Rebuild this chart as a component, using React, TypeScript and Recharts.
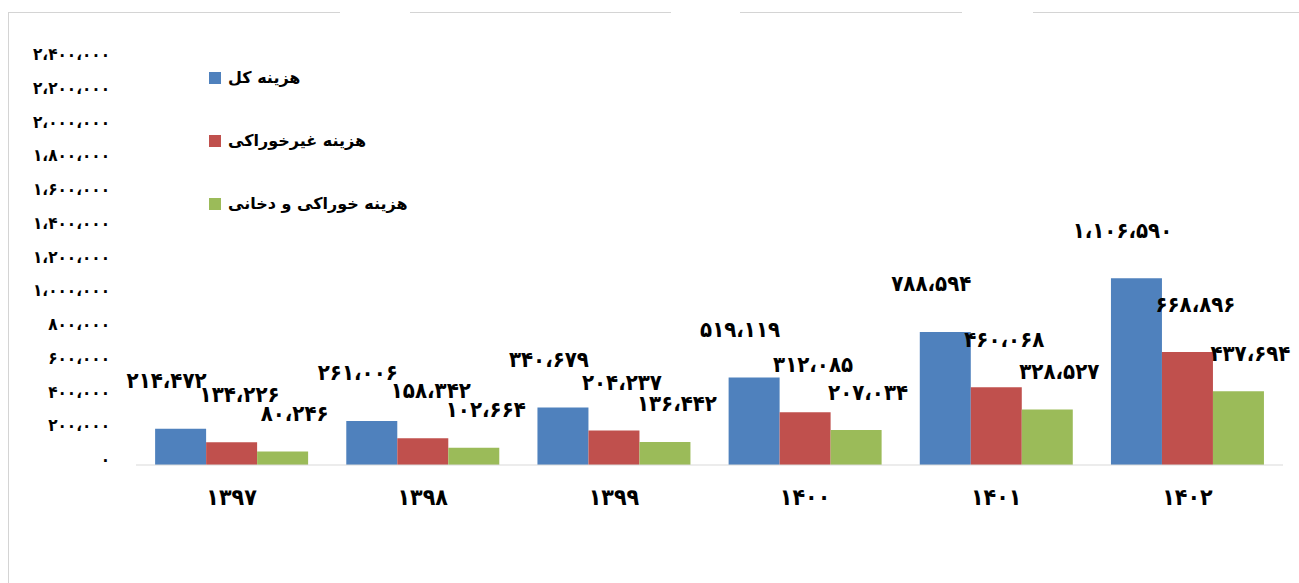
import React from 'react';
import { BarChart, Bar, XAxis, YAxis, LabelList } from 'recharts';

const years = ['1397', '1398', '1399', '1400', '1401', '1402'];
const totalCost = [214472, 261006, 340679, 519119, 788594, 1106590];
const nonFoodCost = [134226, 158342, 204237, 312085, 460068, 668896];
const foodCost = [80246, 102664, 136442, 207034, 328527, 437694];
const yTicks = [0, 200000, 400000, 600000, 800000, 1000000, 1200000, 1400000, 1600000, 1800000, 2000000, 2200000, 2400000];
const seriesNames = ['هزینه کل', 'هزینه غیرخوراکی', 'هزینه خوراکی و دخانی'];
const seriesColors = ['#4F81BD', '#C0504D', '#9BBB59'];

const data = years.map((y, i) => ({
  year: y,
  total: totalCost[i],
  nonFood: nonFoodCost[i],
  food: foodCost[i],
}));

const FONT = "'DejaVu Sans Condensed', 'DejaVu Sans', sans-serif";
const FA = '۰۱۲۳۴۵۶۷۸۹';
const toFa = (s: string) => s.replace(/\d/g, (d) => FA[+d]);
const formatNum = (n: number) => toFa(Math.round(n).toString().replace(/\B(?=(\d{3})+(?!\d))/g, '،'));

const YTick = (props: any) => {
  const { x, y, payload } = props;
  return (
    <text x={x} y={y - 6} textAnchor="end" dominantBaseline="central" fontFamily={FONT} fontWeight="bold" fontSize={17} fill="#000">
      {formatNum(payload.value)}
    </text>
  );
};

const XTick = (props: any) => {
  const { x, y, payload } = props;
  return (
    <text x={x} y={y + 32} textAnchor="middle" dominantBaseline="central" fontFamily={FONT} fontWeight="bold" fontSize={23} fill="#000">
      {toFa(String(payload.value))}
    </text>
  );
};

const makeLabel = (dx: number, dy: number) => (props: any) => {
  const { x, y, width, value } = props;
  return (
    <text x={Number(x) + Number(width) / 2 + dx} y={Number(y) + dy} textAnchor="middle" dominantBaseline="central" fontFamily={FONT} fontWeight="bold" fontSize={22} fill="#000">
      {formatNum(Number(value))}
    </text>
  );
};

const LegendBox = () => (
  <div style={{ position: 'absolute', left: 209, top: 46, display: 'flex', flexDirection: 'column', direction: 'ltr' }}>
    {seriesNames.map((name, i) => (
      <div key={name} style={{ height: 63, display: 'flex', alignItems: 'center' }}>
        <span style={{ width: 12, height: 12, background: seriesColors[i], display: 'inline-block', marginRight: 7 }} />
        <span style={{ fontFamily: "'DejaVu Sans', sans-serif", fontWeight: 'bold', fontSize: 16, color: '#000', direction: 'rtl' }}>{name}</span>
      </div>
    ))}
  </div>
);

export default function App() {
  return (
    <div style={{ position: 'absolute', left: 0, top: 0, width: 1299, height: 583, background: '#fff', overflow: 'hidden' }}>
      {/* frame */}
      <div style={{ position: 'absolute', left: 8, top: 12, width: 1, height: 571, background: '#d4d4d4' }} />
      <div style={{ position: 'absolute', left: 8, top: 12, width: 332, height: 1, background: '#d4d4d4' }} />
      <div style={{ position: 'absolute', left: 410, top: 12, width: 261, height: 1, background: '#d4d4d4' }} />
      <div style={{ position: 'absolute', left: 740, top: 12, width: 222, height: 1, background: '#d4d4d4' }} />
      <div style={{ position: 'absolute', left: 1033, top: 12, width: 266, height: 1, background: '#d4d4d4' }} />
      <div style={{ position: 'absolute', left: 0, top: 0 }}>
        <BarChart
          width={1299}
          height={583}
          data={data}
          margin={{ top: 60, right: 16, bottom: 117, left: 0 }}
          barCategoryGap="10%"
          barGap={0}
        >
          <XAxis
            dataKey="year"
            tick={<XTick />}
            tickLine={false}
            tickSize={0}
            tickMargin={0}
            axisLine={{ stroke: '#d9d9d9' }}
            interval={0}
            height={1}
          />
          <YAxis
            domain={[0, 2400000]}
            ticks={yTicks}
            tick={<YTick />}
            axisLine={false}
            tickLine={false}
            tickSize={0}
            tickMargin={26}
            width={136}
            interval={0}
          />
          <Bar dataKey="total" name={seriesNames[0]} fill={seriesColors[0]} isAnimationActive={false}>
            <LabelList dataKey="total" content={makeLabel(-14, -48)} />
          </Bar>
          <Bar dataKey="nonFood" name={seriesNames[1]} fill={seriesColors[1]} isAnimationActive={false}>
            <LabelList dataKey="nonFood" content={makeLabel(8, -48)} />
          </Bar>
          <Bar dataKey="food" name={seriesNames[2]} fill={seriesColors[2]} isAnimationActive={false}>
            <LabelList dataKey="food" content={makeLabel(12, -38)} />
          </Bar>
        </BarChart>
      </div>
      <LegendBox />
    </div>
  );
}
